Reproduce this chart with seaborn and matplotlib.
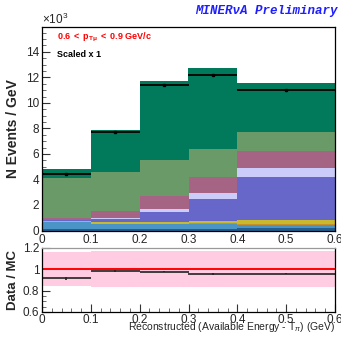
import numpy as np
import pandas as pd
import matplotlib
matplotlib.use("Agg")
import matplotlib.pyplot as plt
import seaborn as sns
from matplotlib.ticker import MultipleLocator, FixedLocator, FuncFormatter

# Binning in reconstructed (available energy - T_pi), GeV
bin_edges = [0.0, 0.1, 0.2, 0.3, 0.4, 0.6]
x_ticks = [0.0, 0.1, 0.2, 0.3, 0.4, 0.5, 0.6]

# MC components (events / GeV, x10^3), stacked from bottom to top
navy = [0.13, 0.13, 0.13, 0.13, 0.20]
steel = [0.53, 0.37, 0.37, 0.37, 0.25]
orange = [0.04, 0.04, 0.04, 0.05, 0.06]
yellow = [0.06, 0.10, 0.12, 0.18, 0.35]
violet = [0.06, 0.25, 0.78, 1.70, 3.32]
lavender = [0.04, 0.08, 0.26, 0.53, 0.74]
mauve = [0.11, 0.52, 0.97, 1.22, 1.30]
light_green = [3.17, 3.12, 2.83, 2.20, 1.49]
dark_green = [0.68, 3.27, 6.20, 6.33, 3.82]

# Data points (events / GeV, x10^3)
data_vals = [4.41, 7.75, 11.43, 12.16, 11.04]
data_errs = [0.06, 0.06, 0.08, 0.08, 0.06]

# Ratio panel: statistical error on data/MC and MC systematic band
ratio_errs = [0.012, 0.008, 0.007, 0.007, 0.006]
band_lo = [0.84, 0.83, 0.83, 0.83, 0.83]
band_hi = [1.16, 1.17, 1.17, 1.17, 1.17]

components = ["dark_green", "light_green", "mauve", "lavender", "violet",
              "yellow", "orange", "steel", "navy"]
component_values = {
    "navy": navy, "steel": steel, "orange": orange, "yellow": yellow,
    "violet": violet, "lavender": lavender, "mauve": mauve,
    "light_green": light_green, "dark_green": dark_green,
}
palette = {
    "dark_green": "#007A5B",
    "light_green": "#699A67",
    "mauve": "#A66484",
    "lavender": "#CCCCFB",
    "violet": "#6767CA",
    "yellow": "#C8B92E",
    "orange": "#C8902A",
    "steel": "#4A95C5",
    "navy": "#245E8E",
}

edges = np.array(bin_edges)
centers = 0.5 * (edges[:-1] + edges[1:])
half_w = 0.5 * np.diff(edges)

rows = []
for name in components:
    for c, v in zip(centers, component_values[name]):
        rows.append({"x": c, "w": v, "component": name})
mc = pd.DataFrame(rows)

mc_total = np.sum([component_values[n] for n in components], axis=0)
ratio = np.array(data_vals) / mc_total

sns.set_style("ticks")
plt.rcParams["font.family"] = ["Liberation Sans", "DejaVu Sans"]
plt.rcParams["mathtext.fontset"] = "custom"
plt.rcParams["mathtext.rm"] = "Liberation Sans"
plt.rcParams["mathtext.it"] = "Liberation Sans:italic"
plt.rcParams["mathtext.bf"] = "Liberation Sans:bold"

W, H = 341, 337
fig = plt.figure(figsize=(W / 100, H / 100), dpi=100)
ax = fig.add_axes([42 / W, 1 - 230.5 / H, 293 / W, 203.5 / H])
ax2 = fig.add_axes([42 / W, 1 - 312 / H, 293 / W, 64.3 / H])

# Stacked MC histogram
sns.histplot(data=mc, x="x", weights="w", hue="component",
             hue_order=components, palette=palette, bins=list(bin_edges),
             multiple="stack", element="bars", alpha=1, linewidth=0,
             edgecolor="none", legend=False, ax=ax)

# Data with horizontal bin-width bars
ax.errorbar(centers, data_vals, xerr=half_w, yerr=data_errs, fmt="none",
            ecolor="black", elinewidth=1.3, capsize=0)
ax.plot(centers, data_vals, ls="none", marker="s", ms=1.5, color="black")

ax.set_xlim(0, 0.6)
ax.set_ylim(0, 15.95)
ax.set_xlabel("")
ax.set_ylabel("N Events / GeV", fontsize=10, fontweight="bold", labelpad=4)
ax.yaxis.set_major_locator(MultipleLocator(2))
ax.yaxis.set_minor_locator(MultipleLocator(0.5))
ax.xaxis.set_major_locator(FixedLocator(x_ticks))
ax.xaxis.set_minor_locator(MultipleLocator(0.02))

fmt_x = FuncFormatter(lambda v, p: "0" if abs(v) < 1e-9 else f"{v:.1f}")
ax.xaxis.set_major_formatter(fmt_x)
ax.yaxis.set_major_formatter(FuncFormatter(lambda v, p: f"{v:g}"))

for a in (ax, ax2):
    a.tick_params(axis="both", which="major", direction="in", length=6,
                  width=0.8, labelsize=8.5, pad=2, color="#333333")
    a.tick_params(axis="both", which="minor", direction="in", length=3,
                  width=0.6, color="#555555")
    a.tick_params(top=False, right=False)
    for s in a.spines.values():
        s.set_linewidth(0.9)
        s.set_color("black")
ax.tick_params(axis="x", which="major", pad=2.5)

ax.text(0.0, 1.0, r"$\times$10$^{3}$", transform=ax.transAxes,
        fontsize=8.5, ha="left", va="bottom")
ax.text(0.05, 0.95, r"$\mathbf{0.6\ <\ p_{T\mu}\ <\ 0.9\ GeV/c}$",
        transform=ax.transAxes, fontsize=6.5, color="#FF0000",
        ha="left", va="center")
ax.text(0.05, 0.865, "Scaled x 1", transform=ax.transAxes, fontsize=6.5,
        fontweight="bold", color="black", ha="left", va="center")

fig.text(338 / W, 1 - 11 / H, "MINERνA Preliminary",
         family=["Liberation Mono", "DejaVu Sans Mono"], fontsize=9,
         fontweight="bold", style="italic", color="#1E1EFF",
         ha="right", va="center")

# Ratio panel
lo = np.append(band_lo, band_lo[-1])
hi = np.append(band_hi, band_hi[-1])
ax2.fill_between(edges, lo, hi, step="post", color="#FFCCE2", lw=0)
ax2.plot([0, 0, 0.6], [0.6, 1.0, 1.0], color="#FF0000", lw=1.4,
         solid_joinstyle="miter")
ax2.errorbar(centers, ratio, xerr=half_w, yerr=ratio_errs, fmt="none",
             ecolor="#222222", elinewidth=1.2, capsize=0)

ax2.set_xlim(0, 0.6)
ax2.set_ylim(0.6, 1.2)
ax2.yaxis.set_major_locator(FixedLocator([0.6, 0.8, 1.0, 1.2]))
ax2.yaxis.set_minor_locator(MultipleLocator(0.05))
ax2.yaxis.set_major_formatter(FuncFormatter(lambda v, p: f"{v:g}"))
ax2.xaxis.set_major_locator(FixedLocator(x_ticks))
ax2.xaxis.set_minor_locator(MultipleLocator(0.02))
ax2.xaxis.set_major_formatter(fmt_x)
ax2.spines["top"].set_color("#999999")
ax2.set_ylabel("Data / MC", fontsize=9.5, fontweight="bold", labelpad=3)
ax2.set_xlabel(r"Reconstructed (Available Energy - T$_{\pi}$) (GeV)",
               fontsize=7.5)
ax2.xaxis.set_label_coords(1.0, -0.13)
ax2.xaxis.label.set_ha("right")
ax2.xaxis.label.set_va("top")
ax2.tick_params(axis="x", which="major", pad=1.5)

fig.savefig("out.png", dpi=100)
